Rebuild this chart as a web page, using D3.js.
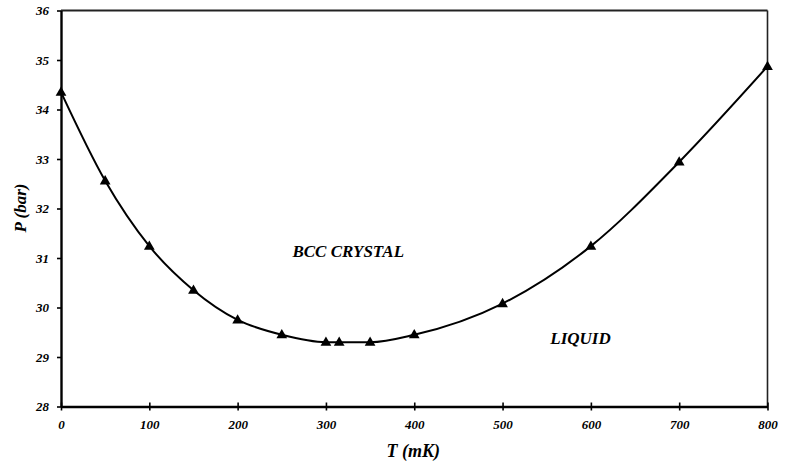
<!DOCTYPE html>
<html>
<head>
<meta charset="utf-8">
<script src="https://cdn.jsdelivr.net/npm/d3@7"></script>
<style>
  body { margin: 0; background: #fff; }
  svg text { font-family: "Liberation Serif", "Times New Roman", serif; font-weight: bold; font-style: italic; fill: #000; }
</style>
</head>
<body>
<script>
var svgWidth = 788;
var svgHeight = 464;

var margin = { top: 10.5, right: 20.5, bottom: 57.5, left: 61 };

var chartWidth = svgWidth - margin.left - margin.right;
var chartHeight = svgHeight - margin.top - margin.bottom;

// DATA
var temps = [0, 50, 100, 150, 200, 250, 300, 315, 350, 400, 500, 600, 700, 800];
var pressures = [34.35, 32.56, 31.24, 30.35, 29.75, 29.45, 29.30, 29.30, 29.30, 29.45, 30.08, 31.24, 32.94, 34.87];
var xTicks = [0, 100, 200, 300, 400, 500, 600, 700, 800];
var yTicks = [28, 29, 30, 31, 32, 33, 34, 35, 36];
var regionLabels = ["BCC CRYSTAL", "LIQUID"];
var regionPos = [[262, 31.02], [554, 29.27]];

var points = temps.map((t, i) => ({ t: t, p: pressures[i] }));

var svg = d3.select("body")
  .append("svg")
  .attr("width", svgWidth)
  .attr("height", svgHeight);

var chartGroup = svg.append("g")
  .attr("transform", `translate(${margin.left}, ${margin.top})`);

// SCALES
var xScale = d3.scaleLinear().domain([0, 800]).range([0, chartWidth]);
var yScale = d3.scaleLinear().domain([28, 36]).range([chartHeight, 0]);

// FRAME (top + right)
chartGroup.append("line")
  .attr("x1", 0).attr("x2", chartWidth).attr("y1", 0).attr("y2", 0)
  .attr("stroke", "#222").attr("stroke-width", 1.8);
chartGroup.append("line")
  .attr("x1", chartWidth).attr("x2", chartWidth).attr("y1", 0).attr("y2", chartHeight)
  .attr("stroke", "#222").attr("stroke-width", 1.6);

// AXES
var bottomAxis = d3.axisBottom(xScale).tickValues(xTicks).tickSizeInner(4).tickSizeOuter(0).tickPadding(9);
var leftAxis = d3.axisLeft(yScale).tickValues(yTicks).tickSizeInner(4).tickSizeOuter(0).tickPadding(8);

var xAxisG = chartGroup.append("g")
  .attr("transform", `translate(0, ${chartHeight})`)
  .call(bottomAxis);
xAxisG.selectAll(".tick line").attr("y1", -4).attr("y2", 4).attr("stroke-width", 1.6);

var yAxisG = chartGroup.append("g").call(leftAxis);
yAxisG.selectAll(".tick line").attr("stroke-width", 1.6);

[xAxisG, yAxisG].forEach(g => {
  g.select(".domain").attr("stroke", "#000").attr("stroke-width", 2.4);
  g.selectAll(".tick text")
    .style("font-family", '"Liberation Serif", serif')
    .style("font-weight", "bold")
    .style("font-style", "italic")
    .attr("font-size", 13);
});

// AXIS TITLES
chartGroup.append("text")
  .attr("x", xScale(400) - 1)
  .attr("y", chartHeight + 50)
  .attr("text-anchor", "middle")
  .attr("font-size", 18)
  .text("T (mK)");

chartGroup.append("text")
  .attr("transform", `translate(${-35}, ${yScale(32.01)}) rotate(-90)`)
  .attr("text-anchor", "middle")
  .attr("font-size", 17)
  .text("P (bar)");

// CURVE
var line = d3.line()
  .x(d => xScale(d.t))
  .y(d => yScale(d.p))
  .curve(d3.curveMonotoneX);

chartGroup.append("path")
  .datum(points)
  .attr("d", line)
  .attr("fill", "none")
  .attr("stroke", "#000")
  .attr("stroke-width", 2);

// MARKERS
chartGroup.selectAll(".marker")
  .data(points)
  .enter()
  .append("path")
  .attr("class", "marker")
  .attr("d", d3.symbol().type(d3.symbolTriangle).size(50))
  .attr("transform", d => `translate(${xScale(d.t)}, ${yScale(d.p) + 0.5})`)
  .attr("fill", "#000");

// REGION LABELS
chartGroup.selectAll(".region")
  .data(regionLabels)
  .enter()
  .append("text")
  .attr("class", "region")
  .attr("x", (d, i) => xScale(regionPos[i][0]))
  .attr("y", (d, i) => yScale(regionPos[i][1]))
  .attr("font-size", 17)
  .text(d => d);
</script>
</body>
</html>
